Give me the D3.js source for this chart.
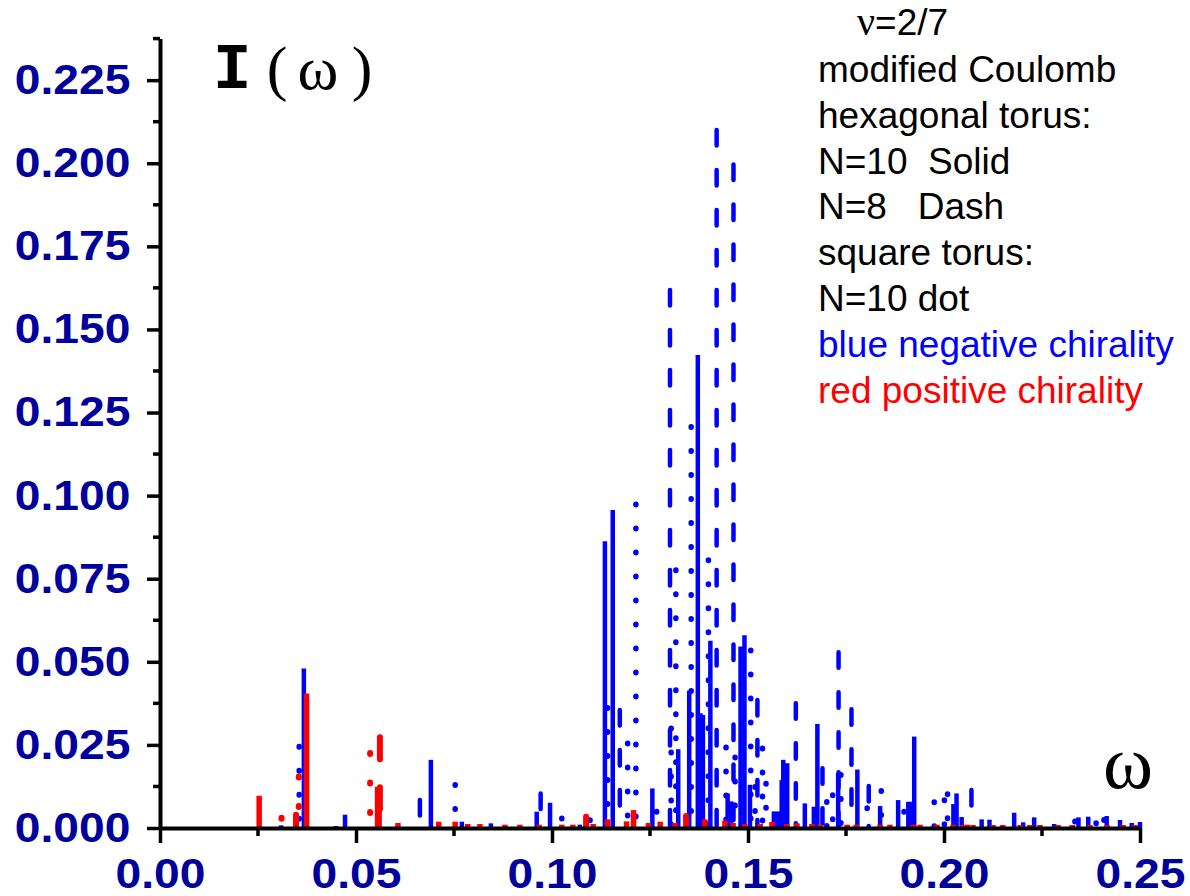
<!DOCTYPE html>
<html>
<head>
<meta charset="utf-8">
<script src="https://cdn.jsdelivr.net/npm/d3@7"></script>
<style>
  html, body { margin: 0; padding: 0; background: #ffffff; }
  svg { display: block; }
</style>
</head>
<body>
<svg id="chart" width="1190" height="896"></svg>
<script>
// Spectral intensity I(ω) for ν = 2/7, modified Coulomb interaction.
// Each entry is [ω, I(ω)]; every line is drawn as a vertical drop line.

// hexagonal torus, N = 10 (solid), negative chirality
const blueSolid = [
  [0.0309, 0.0008], [0.0367, 0.0480], [0.0449, 0.0006], [0.0472, 0.0040],
  [0.0691, 0.0205], [0.0770, 0.0019], [0.0844, 0.0014], [0.0961, 0.0049],
  [0.0995, 0.0076], [0.1071, 0.0010], [0.1135, 0.0863], [0.1155, 0.0957],
  [0.1256, 0.0119], [0.1322, 0.0237], [0.1350, 0.0413], [0.1372, 0.1423],
  [0.1379, 0.0345], [0.1385, 0.0340], [0.1404, 0.0563], [0.1448, 0.0104],
  [0.1457, 0.0080], [0.1481, 0.0546], [0.1491, 0.0580], [0.1505, 0.0130],
  [0.1566, 0.0050], [0.1577, 0.0050], [0.1586, 0.0144], [0.1590, 0.0205],
  [0.1600, 0.0195], [0.1645, 0.0074], [0.1668, 0.0064], [0.1677, 0.0313],
  [0.1730, 0.0165], [0.1779, 0.0176], [0.1837, 0.0066], [0.1883, 0.0084],
  [0.1909, 0.0079], [0.1918, 0.0079], [0.1924, 0.0275], [0.2024, 0.0072],
  [0.2032, 0.0104], [0.2045, 0.0033], [0.2096, 0.0026], [0.2116, 0.0025],
  [0.2179, 0.0046], [0.2202, 0.0017], [0.2230, 0.0032], [0.2281, 0.0012],
  [0.2343, 0.0032], [0.2368, 0.0034], [0.2415, 0.0036], [0.2449, 0.0024],
  [0.2479, 0.0015], [0.2500, 0.0018]
];

// hexagonal torus, N = 8 (dash), negative chirality
const blueDash = [
  [0.0663, 0.0084], [0.0971, 0.0104], [0.1173, 0.0355], [0.1301, 0.1619],
  [0.1420, 0.2100], [0.1463, 0.1996], [0.1524, 0.0385], [0.1622, 0.0375],
  [0.1690, 0.0180], [0.1731, 0.0529], [0.1764, 0.0357], [0.1808, 0.0126],
  [0.2070, 0.0114]
];

// square torus, N = 10 (dot), negative chirality
const blueDot = [
  [0.0355, 0.0245], [0.0753, 0.0130], [0.1025, 0.0029], [0.1097, 0.0024],
  [0.1142, 0.0362], [0.1193, 0.0255], [0.1214, 0.0974], [0.1267, 0.0050],
  [0.1304, 0.0300], [0.1316, 0.0776], [0.1355, 0.1207], [0.1399, 0.0806],
  [0.1444, 0.0243], [0.1467, 0.0213], [0.1507, 0.0535], [0.1518, 0.0124],
  [0.1537, 0.0240], [0.1546, 0.0134], [0.1701, 0.0079], [0.1716, 0.0099],
  [0.1737, 0.0160], [0.1804, 0.0060], [0.1840, 0.0112], [0.1898, 0.0050],
  [0.1975, 0.0078], [0.2001, 0.0084], [0.2009, 0.0102], [0.2334, 0.0020],
  [0.2388, 0.0015], [0.2408, 0.0025]
];

// hexagonal torus, N = 10 (solid), positive chirality
const redSolid = [
  [0.0253, 0.0097], [0.0374, 0.0405], [0.0555, 0.0124], [0.0559, 0.0094],
  [0.0607, 0.0015], [0.0711, 0.0019], [0.0753, 0.0019], [0.0785, 0.0012],
  [0.0816, 0.0012], [0.0880, 0.0010], [0.0918, 0.0010], [0.0967, 0.0010],
  [0.1025, 0.0010], [0.1053, 0.0010], [0.1105, 0.0012], [0.1142, 0.0026],
  [0.1190, 0.0020], [0.1208, 0.0054], [0.1246, 0.0015], [0.1276, 0.0019],
  [0.1314, 0.0015], [0.1390, 0.0026], [0.1441, 0.0022], [0.1462, 0.0015],
  [0.1492, 0.0012], [0.1531, 0.0012], [0.1561, 0.0018], [0.1599, 0.0012],
  [0.1625, 0.0014], [0.1663, 0.0012], [0.1684, 0.0010], [0.1753, 0.0010],
  [0.1776, 0.0010], [0.1837, 0.0010], [0.1862, 0.0010], [0.1921, 0.0010],
  [0.1939, 0.0010], [0.1982, 0.0010], [0.2023, 0.0010], [0.2059, 0.0010],
  [0.2048, 0.0009], [0.2074, 0.0009], [0.2125, 0.0009], [0.2150, 0.0009],
  [0.2194, 0.0009], [0.2219, 0.0009], [0.2245, 0.0009], [0.2291, 0.0009],
  [0.2327, 0.0009], [0.2372, 0.0009], [0.2416, 0.0009], [0.2457, 0.0009],
  [0.2487, 0.0009]
];

// hexagonal torus, N = 8 (dash), positive chirality
const redDash = [
  [0.0347, 0.0040], [0.0561, 0.0273], [0.1087, 0.0034], [0.1342, 0.0036]
];

// square torus, N = 10 (dot), positive chirality
const redDot = [
  [0.0310, 0.0031], [0.0354, 0.0155], [0.0536, 0.0226]
];

const xTicks = [0, 0.05, 0.10, 0.15, 0.20, 0.25];
const yTicks = [0, 0.025, 0.05, 0.075, 0.1, 0.125, 0.15, 0.175, 0.2, 0.225];
const legendLines = [
  "modified Coulomb", "hexagonal torus:", "N=10\u00a0\u00a0Solid", "N=8\u00a0\u00a0\u00a0Dash",
  "square torus:", "N=10 dot"
];
const chiralityLines = ["blue negative chirality", "red positive chirality"];

const svg = d3.select("#chart");
const plotLeft = 160, plotRight = 1140, plotTop = 38.6, plotBottom = 828;

const x = d3.scaleLinear().domain([0, 0.25]).range([plotLeft, plotRight]);
const y = d3.scaleLinear().domain([0, 0.2375]).range([plotBottom, plotTop]);

const BLUE = "#0000ff", RED = "#ff0000", NAVY = "#00009c";

svg.append("defs").append("clipPath").attr("id", "plotClip")
  .append("rect").attr("x", plotLeft).attr("y", 0)
  .attr("width", plotRight - plotLeft + 10).attr("height", plotBottom);

const marks = svg.append("g").attr("clip-path", "url(#plotClip)");

const styles = [
  { data: blueSolid, color: BLUE, width: 4.5, dash: null,        cap: "butt" },
  { data: blueDash,  color: BLUE, width: 4.5, dash: "15.5,24.5", cap: "round" },
  { data: blueDot,   color: BLUE, width: 5.5, dash: "0.5,23.5",  cap: "round" },
  { data: redSolid,  color: RED,  width: 5.5, dash: null,        cap: "butt" },
  { data: redDash,   color: RED,  width: 6,   dash: "22,28",     cap: "round" },
  { data: redDot,    color: RED,  width: 6,   dash: "1,28.5",    cap: "round" }
];

styles.forEach(s => {
  marks.append("g").selectAll("line").data(s.data).join("line")
    .attr("x1", d => x(d[0])).attr("x2", d => x(d[0]))
    .attr("y1", d => y(d[1])).attr("y2", y(0))
    .attr("stroke", s.color)
    .attr("stroke-width", s.width)
    .attr("stroke-linecap", s.cap)
    .attr("stroke-dasharray", s.dash);
});

// minor ticks between labelled ones
const xMinor = d3.range(0.025, 0.25, 0.05);
const yMinor = d3.range(0.0125, 0.24, 0.025);

const tickFont = "'Liberation Sans', Arial, sans-serif";

const xAxis = svg.append("g").attr("transform", `translate(0,${plotBottom})`)
  .call(d3.axisBottom(x).tickValues(xTicks).tickFormat(d3.format(".2f"))
    .tickSize(15).tickSizeOuter(0).tickPadding(15));
const yAxis = svg.append("g").attr("transform", `translate(${plotLeft},0)`)
  .call(d3.axisLeft(y).tickValues(yTicks).tickFormat(d3.format(".3f"))
    .tickSize(13).tickSizeOuter(0).tickPadding(14));

[xAxis, yAxis].forEach(a => {
  a.select(".domain").attr("stroke", "#000").attr("stroke-width", 4);
  a.selectAll(".tick line").attr("stroke", "#000").attr("stroke-width", 3.5);
  a.selectAll(".tick text")
    .attr("fill", NAVY)
    .attr("transform", "scale(1.1,1)")
    .style("font-family", tickFont)
    .style("font-weight", "bold")
    .style("font-size", "42px");
});

svg.append("g").selectAll("line").data(xMinor).join("line")
  .attr("x1", d => x(d)).attr("x2", d => x(d))
  .attr("y1", plotBottom).attr("y2", plotBottom + 8)
  .attr("stroke", "#000").attr("stroke-width", 3.5);
svg.append("g").selectAll("line").data(yMinor).join("line")
  .attr("x1", plotLeft - 7).attr("x2", plotLeft)
  .attr("y1", d => y(d)).attr("y2", d => y(d))
  .attr("stroke", "#000").attr("stroke-width", 3.5);

// y-axis title: I(ω)
svg.append("text").attr("x", 213).attr("y", 88)
  .style("font-family", "'Liberation Mono', 'Courier New', monospace")
  .style("font-weight", "bold").style("font-size", "64px")
  .text("I");
const serif = "'Liberation Serif', 'Times New Roman', serif";
[["(", 277], ["\u03c9", 318], [")", 362]].forEach(([ch, cx]) => {
  svg.append("text").attr("x", cx).attr("y", 89)
    .attr("text-anchor", "middle")
    .style("font-family", serif).style("font-size", "62px")
    .text(ch);
});

// x-axis title
svg.append("text").attr("x", 1128).attr("y", 788)
  .attr("text-anchor", "middle")
  .style("font-family", serif).style("font-size", "76px")
  .text("\u03c9");

// annotation block
const note = svg.append("g")
  .style("font-family", "'Liberation Sans', Arial, sans-serif")
  .style("font-size", "37px");
const nu = note.append("text").attr("x", 857).attr("y", 35);
nu.append("tspan").style("font-family", serif).style("font-size", "40px").text("\u03bd");
nu.append("tspan").text("=2/7");
legendLines.forEach((t, i) => {
  note.append("text").attr("x", 818).attr("y", 82 + i * 45.8).attr("fill", "#000").text(t);
});
chiralityLines.forEach((t, i) => {
  note.append("text").attr("x", 818).attr("y", 357 + i * 45.5)
    .attr("fill", i === 0 ? BLUE : RED).text(t);
});
</script>
</body>
</html>
